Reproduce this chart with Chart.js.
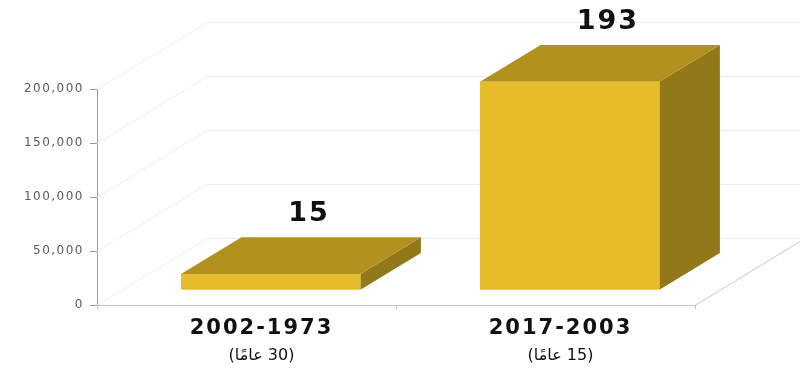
<!DOCTYPE html>
<html><head><meta charset="utf-8">
<script src="https://cdn.jsdelivr.net/npm/chart.js@4/dist/chart.umd.min.js"></script>
<style>html,body{margin:0;padding:0;background:#fff}#wrap{width:800px;height:368px;position:relative}</style>
</head><body><div id="wrap"><canvas id="c"></canvas></div>
<script>
const periods = ['2002-1973', '2017-2003'];
const durations = ['(30 عامًا)', '(15 عامًا)'];
const values = [15000, 193000];
const valueLabels = ['15', '193'];
const yTicks = [0, 50000, 100000, 150000, 200000];

const DX = 110, DY = -67;          // full depth of the 3D floor
const BAR_Z0 = 0.22, BAR_Z1 = 0.77; // bar depth range
const FRONT = '#E6BC2A', TOP = '#B3911F', SIDE = '#927818';
const LABEL_STYLE = {
  y: { spacing: '1.5px', dir: 'ltr' },
  x: { spacing: '2px', dir: 'ltr' },
  x2: { spacing: '0px', dir: 'rtl' }
};

function poly(ctx, pts, fill) {
  ctx.beginPath();
  ctx.moveTo(pts[0][0], pts[0][1]);
  for (let i = 1; i < pts.length; i++) ctx.lineTo(pts[i][0], pts[i][1]);
  ctx.closePath();
  ctx.fillStyle = fill;
  ctx.fill();
}

const threeD = {
  id: 'threeD',
  afterLayout(chart) {
    Object.keys(LABEL_STYLE).forEach(id => {
      const s = chart.scales[id];
      if (s && !s._spWrapped) {
        const orig = s.drawLabels.bind(s);
        s.drawLabels = function (area) {
          const ctx = chart.ctx;
          ctx.save();
          ctx.letterSpacing = LABEL_STYLE[id].spacing;
          ctx.direction = LABEL_STYLE[id].dir;
          orig(area);
          ctx.restore();
        };
        s._spWrapped = true;
      }
    });
  },
  beforeDatasetsDraw(chart) {
    const ctx = chart.ctx, y = chart.scales.y, a = chart.chartArea;
    ctx.save();
    ctx.lineWidth = 1;
    ctx.strokeStyle = '#ececec';
    yTicks.forEach(v => {
      const py = Math.round(y.getPixelForValue(v)) + 0.5;
      ctx.beginPath();
      ctx.moveTo(a.left, py);
      ctx.lineTo(a.left + DX, py + DY);
      ctx.lineTo(chart.width, py + DY);
      ctx.stroke();
    });
    const b = y.getPixelForValue(0) + 0.5;
    ctx.strokeStyle = '#c8c8c8';
    ctx.beginPath();
    ctx.moveTo(a.right, b);
    ctx.lineTo(a.right + DX, b + DY);
    ctx.stroke();
    ctx.restore();
  },
  afterDatasetsDraw(chart) {
    const ctx = chart.ctx;
    const meta = chart.getDatasetMeta(0);
    ctx.save();
    ctx.letterSpacing = '2px';
    meta.data.forEach((bar, i) => {
      const p = bar.getProps(['x', 'y', 'base', 'width'], true);
      const l = p.x - p.width / 2 + BAR_Z0 * DX, r = p.x + p.width / 2 + BAR_Z0 * DX;
      const t = p.y + BAR_Z0 * DY, bt = p.base + BAR_Z0 * DY;
      const ddx = (BAR_Z1 - BAR_Z0) * DX, ddy = (BAR_Z1 - BAR_Z0) * DY;
      poly(ctx, [[r, t], [r + ddx, t + ddy], [r + ddx, bt + ddy], [r, bt]], SIDE);
      poly(ctx, [[l, t], [l + ddx, t + ddy], [r + ddx, t + ddy], [r, t]], TOP);
      poly(ctx, [[l, t], [r, t], [r, bt], [l, bt]], FRONT);
      ctx.fillStyle = '#111';
      ctx.font = 'bold 27px "DejaVu Sans"';
      ctx.textAlign = 'center';
      ctx.textBaseline = 'middle';
      ctx.fillText(valueLabels[i], (l + r + ddx) / 2 + 8, t + ddy - 23);
    });
    ctx.restore();
  }
};

Chart.defaults.font.family = '"DejaVu Sans", Verdana, sans-serif';

new Chart(document.getElementById('c'), {
  type: 'bar',
  data: {
    labels: periods,
    datasets: [{
      data: values,
      backgroundColor: 'rgba(0,0,0,0)',
      borderWidth: 0,
      barPercentage: 0.6,
      categoryPercentage: 1,
      xAxisID: 'x',
      yAxisID: 'y'
    }]
  },
  options: {
    responsive: true,
    maintainAspectRatio: false,
    animation: false,
    layout: { padding: { left: 0, right: 105, top: 89, bottom: 0 } },
    plugins: { legend: { display: false }, tooltip: { enabled: false } },
    scales: {
      y: {
        min: 0, max: 200000,
        afterBuildTicks: s => { s.ticks = yTicks.map(v => ({ value: v })); },
        afterFit: s => { s.width = 97; },
        grid: { display: true, drawOnChartArea: false, drawTicks: true, tickLength: 7, color: '#9a9a9a' },
        border: { display: true, color: '#9a9a9a' },
        ticks: {
          padding: 6, color: '#5a5a5a', font: { size: 12 },
          callback: v => v.toLocaleString('en-US')
        }
      },
      x: {
        type: 'category',
        labels: periods,
        offset: true,
        afterFit: s => { s.height = 40; },
        grid: { display: true, drawOnChartArea: false, drawTicks: true, tickLength: 4, color: '#bbb', offset: true },
        border: { display: true, color: '#c4c4c4' },
        ticks: { padding: 7, color: '#111', labelOffset: 15, font: { size: 21, weight: 'bold' }, maxRotation: 0 }
      },
      x2: {
        type: 'category',
        labels: durations,
        position: 'bottom',
        offset: true,
        afterFit: s => { s.height = 23; },
        grid: { display: false, drawTicks: false },
        border: { display: false },
        ticks: { padding: 1, color: '#111', labelOffset: 15, font: { size: 16 }, maxRotation: 0 }
      }
    }
  },
  plugins: [threeD]
});
</script>
</body></html>
